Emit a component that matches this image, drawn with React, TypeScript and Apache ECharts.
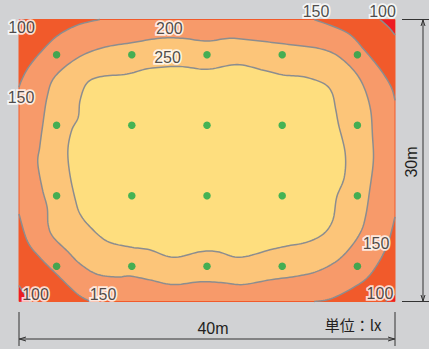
import React, { useEffect, useRef } from "react";
import * as echarts from "echarts";

// Room size (m)
const roomWidth = 40;
const roomDepth = 30;

// Measuring points (m)
const dotX = [4, 12, 20, 28, 36];
const dotY = [3.75, 11.25, 18.75, 26.25];

// 150 lx contour pieces (corner cut-offs), [x m, y m from top]
const c150TopLeft = [[8.6, 0], [6.2, 0.6], [4.0, 1.8], [2.2, 3.6], [1.0, 5.1], [0.3, 6.4], [0, 7.2]];
const c150TopRight = [[31.4, 0], [34.9, 1.4], [36.7, 3.2], [38.5, 5.4], [39.6, 7.2], [40, 8.6]];
const c150BottomRight = [[40, 21.0], [39.1, 24.2], [37.4, 27.1], [35.6, 28.5], [33.2, 29.7], [31.4, 30]];
const c150BottomLeft = [[7.6, 30], [6.2, 29.2], [4.0, 27.1], [2.2, 25.3], [0.9, 23.6], [0, 20.7]];

// 100 lx contour pieces
const c100TopLeft = [[0.6, 0], [0, 0.6]];
const c100TopRight = [[38.4, 0], [39.3, 0.8], [40, 1.65]];
const c100BottomRight = [[39.0, 30], [40, 29.2]];
const c100BottomLeft = [[0, 28.3], [0.6, 29.2], [1.2, 30]];

// 200 lx contour (closed)
const c200 = [
  [3.8, 6.1], [6.2, 4.1], [8.9, 3.0], [11.8, 2.5], [15.0, 2.0], [17.4, 2.0], [20.0, 2.3], [22.4, 2.0],
  [24.9, 2.2], [27.4, 2.5], [29.9, 2.8], [32.0, 3.1], [33.8, 3.8], [35.6, 5.4], [36.7, 7.2], [37.4, 9.6],
  [37.6, 12.3], [37.7, 15.0], [37.3, 18.2], [36.9, 20.8], [36.4, 22.5], [35.3, 24.2], [33.8, 25.7],
  [31.7, 26.8], [29.6, 27.3], [26.7, 27.7], [23.8, 28.2], [21.7, 28.0], [19.3, 27.9], [16.4, 28.2],
  [13.9, 27.7], [11.8, 27.3], [10.4, 27.4], [8.3, 27.1], [6.5, 26.0], [5.1, 24.6], [3.6, 23.1],
  [3.1, 21.8], [3.0, 20.0], [2.5, 18.1], [2.0, 15.3], [2.2, 13.6], [2.5, 11.4], [3.0, 8.2],
];

// 250 lx contour (closed)
const c250 = [
  [7.2, 6.8], [8.6, 6.1], [11.5, 5.8], [13.9, 5.2], [17.1, 5.0], [20.0, 5.3], [23.2, 4.8], [26.0, 5.4],
  [28.1, 5.9], [30.3, 6.1], [32.4, 6.8], [33.3, 7.8], [33.7, 9.6], [34.0, 11.2], [34.7, 14.2], [34.6, 16.8],
  [33.8, 18.9], [33.4, 21.3], [32.4, 22.8], [30.6, 23.7], [28.5, 24.1], [26.7, 24.5], [23.5, 25.3],
  [21.1, 24.7], [19.3, 24.7], [16.4, 25.3], [13.9, 24.5], [11.8, 24.2], [9.4, 23.6], [7.6, 22.1],
  [6.5, 20.7], [6.0, 19.2], [5.4, 16.4], [5.2, 13.9], [5.6, 11.8], [6.3, 10.4], [6.5, 8.6],
];

// Contour value labels
const labelValues = [100, 150, 200, 250, 150, 100, 150, 100, 100, 150];
const labelX = [0.27, 0.21, 16.0, 15.8, 31.6, 38.67, 37.98, 38.4, 1.76, 8.94];
const labelY = [0.85, 8.3, 1.0, 4.04, -0.8, -0.8, 23.88, 29.2, 29.3, 29.3];

const C_RED = "#ed1c24";
const C_ORANGE_RED = "#f15a2b";
const C_SALMON = "#f79a6a";
const C_LIGHT = "#fcc579";
const C_YELLOW = "#fede7e";
const C_LINE = "#8c8d8f";
const C_DOT = "#17a84a";
const C_TEXT = "#231f20";
const FONT = "'Liberation Sans', Arial, Helvetica, sans-serif";

function spline(pts: number[][], closed: boolean, seg = 10): number[][] {
  const n = pts.length;
  const out: number[][] = [];
  if (n < 2) return pts.slice();
  const get = (i: number) => (closed ? pts[(i + n) % n] : pts[Math.max(0, Math.min(n - 1, i))]);
  const last = closed ? n : n - 1;
  for (let i = 0; i < last; i++) {
    const p0 = get(i - 1), p1 = get(i), p2 = get(i + 1), p3 = get(i + 2);
    for (let s = 0; s < seg; s++) {
      const t = s / seg, t2 = t * t, t3 = t2 * t;
      out.push([0, 1].map((k) =>
        0.5 * (2 * p1[k] + (-p0[k] + p2[k]) * t + (2 * p0[k] - 5 * p1[k] + 4 * p2[k] - p3[k]) * t2 +
          (-p0[k] + 3 * p1[k] - 3 * p2[k] + p3[k]) * t3)
      ));
    }
  }
  if (!closed) out.push(pts[n - 1]);
  return out;
}

function cornerSeries(curve: number[][], corner: number[], fill: string, z: number) {
  return {
    type: "custom",
    coordinateSystem: "cartesian2d",
    silent: true,
    z,
    data: [corner],
    renderItem: (_p: any, api: any) => {
      const px = curve.map((p) => api.coord(p));
      const sm = spline(px, false);
      const c = api.coord(corner);
      return {
        type: "group",
        children: [
          { type: "polygon", shape: { points: [c, ...sm] }, style: { fill, stroke: "none" } },
          { type: "polyline", shape: { points: sm }, style: { stroke: C_LINE, lineWidth: 1.5, fill: "none" } },
        ],
      };
    },
  };
}

function closedSeries(curve: number[][], fill: string, z: number) {
  return {
    type: "custom",
    coordinateSystem: "cartesian2d",
    silent: true,
    z,
    data: [curve[0]],
    renderItem: (_p: any, api: any) => {
      const px = curve.map((p) => api.coord(p));
      const sm = spline(px, true);
      return {
        type: "polygon",
        shape: { points: sm },
        style: { fill, stroke: C_LINE, lineWidth: 1.5 },
      };
    },
  };
}

export default function App() {
  const ref = useRef<HTMLDivElement>(null);
  useEffect(() => {
    document.body.style.margin = "0";
    const chart = echarts.init(ref.current!, null, { renderer: "svg" });

    const dots: number[][] = [];
    dotY.forEach((y) => dotX.forEach((x) => dots.push([x, y])));
    const labels = labelValues.map((v, i) => [labelX[i], labelY[i], v]);

    const option: any = {
      animation: false,
      backgroundColor: "#d1d2d4",
      grid: { left: 19, top: 19.5, width: 376, height: 282 },
      xAxis: { type: "value", min: 0, max: roomWidth, show: false },
      yAxis: { type: "value", min: 0, max: roomDepth, inverse: true, show: false },
      series: [
        {
          type: "custom",
          coordinateSystem: "cartesian2d",
          silent: true,
          z: 1,
          data: [[0, 0]],
          renderItem: (_p: any, api: any) => {
            const a = api.coord([0, 0]);
            const b = api.coord([roomWidth, roomDepth]);
            return {
              type: "rect",
              shape: { x: a[0], y: a[1], width: b[0] - a[0], height: b[1] - a[1] },
              style: { fill: C_SALMON, stroke: C_ORANGE_RED, lineWidth: 1 },
            };
          },
        },
        cornerSeries(c150TopLeft, [0, 0], C_ORANGE_RED, 2),
        cornerSeries(c150TopRight, [roomWidth, 0], C_ORANGE_RED, 2),
        cornerSeries(c150BottomRight, [roomWidth, roomDepth], C_ORANGE_RED, 2),
        cornerSeries(c150BottomLeft, [0, roomDepth], C_ORANGE_RED, 2),
        closedSeries(c200, C_LIGHT, 3),
        closedSeries(c250, C_YELLOW, 4),
        cornerSeries(c100TopLeft, [0, 0], C_RED, 5),
        cornerSeries(c100TopRight, [roomWidth, 0], C_RED, 5),
        cornerSeries(c100BottomRight, [roomWidth, roomDepth], C_RED, 5),
        cornerSeries(c100BottomLeft, [0, roomDepth], C_RED, 5),
        {
          type: "scatter",
          z: 6,
          silent: true,
          symbol: "circle",
          symbolSize: 7.5,
          itemStyle: { color: C_DOT },
          data: dots,
        },
        {
          type: "scatter",
          z: 7,
          silent: true,
          clip: false,
          symbolSize: 1,
          itemStyle: { color: "rgba(0,0,0,0)" },
          data: labels,
          label: {
            show: true,
            position: "inside",
            formatter: (p: any) => String(p.value[2]),
            fontSize: 16,
            fontFamily: FONT,
            color: C_TEXT,
            textBorderColor: "#ffffff",
            textBorderWidth: 3.5,
          },
        },
      ],
      graphic: [
        // horizontal dimension
        { type: "line", shape: { x1: 19, y1: 339, x2: 395, y2: 339 }, style: { stroke: "#333", lineWidth: 1 } },
        { type: "line", shape: { x1: 19, y1: 312, x2: 19, y2: 346 }, style: { stroke: "#333", lineWidth: 1 } },
        { type: "line", shape: { x1: 395, y1: 312, x2: 395, y2: 346 }, style: { stroke: "#333", lineWidth: 1 } },
        { type: "polyline", shape: { points: [[26, 337], [19.5, 339], [26, 341]] }, style: { stroke: "#333", lineWidth: 1, fill: "none" } },
        { type: "polyline", shape: { points: [[388, 337], [394.5, 339], [388, 341]] }, style: { stroke: "#333", lineWidth: 1, fill: "none" } },
        // vertical dimension
        { type: "line", shape: { x1: 423, y1: 19.5, x2: 423, y2: 301.5 }, style: { stroke: "#333", lineWidth: 1 } },
        { type: "line", shape: { x1: 402, y1: 19.5, x2: 429, y2: 19.5 }, style: { stroke: "#333", lineWidth: 1 } },
        { type: "line", shape: { x1: 402, y1: 301.5, x2: 429, y2: 301.5 }, style: { stroke: "#333", lineWidth: 1 } },
        { type: "polyline", shape: { points: [[421, 26], [423, 20], [425, 26]] }, style: { stroke: "#333", lineWidth: 1, fill: "none" } },
        { type: "polyline", shape: { points: [[421, 295], [423, 301], [425, 295]] }, style: { stroke: "#333", lineWidth: 1, fill: "none" } },
        {
          type: "text", x: 213, y: 328,
          style: { text: "40m", fontSize: 16, fontFamily: FONT, fill: C_TEXT, align: "center", verticalAlign: "middle", textAlign: "center", textVerticalAlign: "middle" },
        },
        {
          type: "text", x: 353, y: 324,
          style: { text: "単位：lx", fontSize: 15, fontFamily: "'Noto Sans CJK JP', " + FONT, fill: C_TEXT, align: "center", verticalAlign: "middle", textAlign: "center", textVerticalAlign: "middle" },
        },
        {
          type: "text", x: 411, y: 162, rotation: Math.PI / 2,
          style: { text: "30m", fontSize: 16, fontFamily: FONT, fill: C_TEXT, align: "center", verticalAlign: "middle", textAlign: "center", textVerticalAlign: "middle" },
        },
      ],
    };
    chart.setOption(option);
    return () => chart.dispose();
  }, []);
  return <div ref={ref} style={{ width: 429, height: 349 }} />;
}
